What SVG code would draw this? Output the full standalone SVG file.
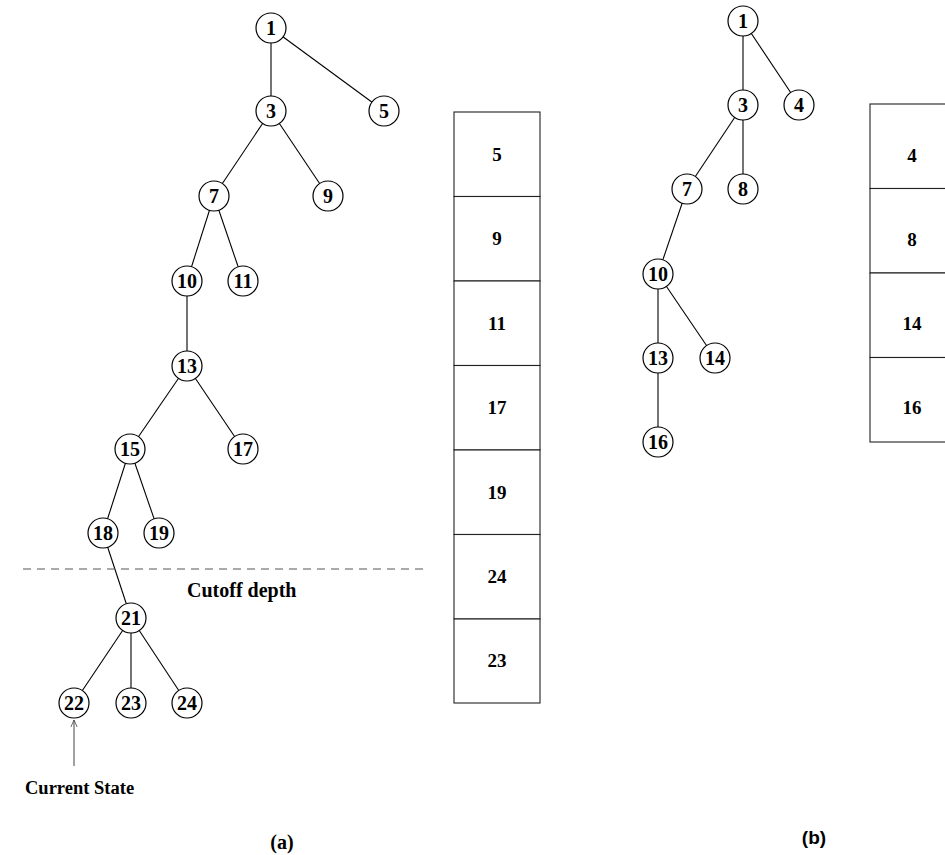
<svg xmlns="http://www.w3.org/2000/svg" width="945" height="855" viewBox="0 0 945 855">
  <style>
    .edge { stroke: #000; stroke-width: 1.1; fill: none; }
    .node circle { fill: #fff; stroke: #000; stroke-width: 1.2; }
    .node text { font-family: "Liberation Serif", "Times New Roman", serif; font-weight: bold; font-size: 20px; text-anchor: middle; fill: #000; }
    .cell rect { fill: #fff; stroke: #222; stroke-width: 1.1; }
    .cell text { font-family: "Liberation Serif", "Times New Roman", serif; font-weight: bold; font-size: 19px; text-anchor: middle; fill: #000; }
    .label { font-family: "Liberation Serif", "Times New Roman", serif; font-weight: bold; font-size: 20px; fill: #000; }
    .cap-b { font-family: "Liberation Sans", Arial, sans-serif; font-weight: bold; font-size: 19px; text-anchor: middle; fill: #000; }
  </style>
  <defs>
    <marker id="openArrow" viewBox="0 0 10 10" refX="9" refY="5" markerWidth="8" markerHeight="10" orient="auto" markerUnits="userSpaceOnUse">
      <path d="M0,1 L9,5 L0,9" fill="none" stroke="#444" stroke-width="1"/>
    </marker>
  </defs>

  <!-- Connectors (tree a, tree b, cutoff and pointer) -->
  <g id="connectors">
    <line class="edge" x1="271" y1="28" x2="271" y2="111"/>
    <line class="edge" x1="271" y1="28" x2="384" y2="111"/>
    <line class="edge" x1="271" y1="111" x2="214" y2="196"/>
    <line class="edge" x1="271" y1="111" x2="328" y2="196"/>
    <line class="edge" x1="214" y1="196" x2="187" y2="281"/>
    <line class="edge" x1="214" y1="196" x2="243" y2="281"/>
    <line class="edge" x1="187" y1="281" x2="187" y2="366"/>
    <line class="edge" x1="187" y1="366" x2="130" y2="449"/>
    <line class="edge" x1="187" y1="366" x2="243" y2="449"/>
    <line class="edge" x1="130" y1="449" x2="103" y2="533"/>
    <line class="edge" x1="130" y1="449" x2="159" y2="533"/>
    <line class="edge" x1="103" y1="533" x2="131" y2="618"/>
    <line class="edge" x1="131" y1="618" x2="74" y2="703"/>
    <line class="edge" x1="131" y1="618" x2="131" y2="703"/>
    <line class="edge" x1="131" y1="618" x2="187" y2="703"/>

    <line class="edge" x1="743" y1="21" x2="743" y2="105"/>
    <line class="edge" x1="743" y1="21" x2="799" y2="105"/>
    <line class="edge" x1="743" y1="105" x2="687" y2="189"/>
    <line class="edge" x1="743" y1="105" x2="743" y2="189"/>
    <line class="edge" x1="687" y1="189" x2="658" y2="274"/>
    <line class="edge" x1="658" y1="274" x2="658" y2="358"/>
    <line class="edge" x1="658" y1="274" x2="715" y2="358"/>
    <line class="edge" x1="658" y1="358" x2="658" y2="442"/>

    <line x1="23" y1="569" x2="426" y2="569" stroke="#555" stroke-width="1" stroke-dasharray="8 6"/>
    <line x1="74" y1="766" x2="74" y2="720" stroke="#444" stroke-width="1" marker-end="url(#openArrow)"/>
  </g>

  <!-- Tree (a) -->
  <g id="a1" class="node"><circle cx="271" cy="28" r="15"/><text x="271" y="35">1</text></g>
  <g id="a3" class="node"><circle cx="271" cy="111" r="15"/><text x="271" y="118">3</text></g>
  <g id="a5" class="node"><circle cx="384" cy="111" r="15"/><text x="384" y="118">5</text></g>
  <g id="a7" class="node"><circle cx="214" cy="196" r="15"/><text x="214" y="203">7</text></g>
  <g id="a9" class="node"><circle cx="328" cy="196" r="15"/><text x="328" y="203">9</text></g>
  <g id="a10" class="node"><circle cx="187" cy="281" r="15"/><text x="187" y="288">10</text></g>
  <g id="a11" class="node"><circle cx="243" cy="281" r="15"/><text x="243" y="288">11</text></g>
  <g id="a13" class="node"><circle cx="187" cy="366" r="15"/><text x="187" y="373">13</text></g>
  <g id="a15" class="node"><circle cx="130" cy="449" r="15"/><text x="130" y="456">15</text></g>
  <g id="a17" class="node"><circle cx="243" cy="449" r="15"/><text x="243" y="456">17</text></g>
  <g id="a18" class="node"><circle cx="103" cy="533" r="15"/><text x="103" y="540">18</text></g>
  <g id="a19" class="node"><circle cx="159" cy="533" r="15"/><text x="159" y="540">19</text></g>
  <g id="a21" class="node"><circle cx="131" cy="618" r="15"/><text x="131" y="625">21</text></g>
  <g id="a22" class="node"><circle cx="74" cy="703" r="15"/><text x="74" y="710">22</text></g>
  <g id="a23" class="node"><circle cx="131" cy="703" r="15"/><text x="131" y="710">23</text></g>
  <g id="a24" class="node"><circle cx="187" cy="703" r="15"/><text x="187" y="710">24</text></g>

  <text class="label" x="187" y="597">Cutoff depth</text>
  <text class="label" x="25" y="794" style="font-size:18.5px">Current State</text>
  <text class="label" x="282" y="849" text-anchor="middle">(a)</text>

  <!-- Open list (a) -->
  <g id="listA">
    <g class="cell"><rect x="454" y="112" width="86" height="84.5"/><text x="497" y="161">5</text></g>
    <g class="cell"><rect x="454" y="196.5" width="86" height="84.5"/><text x="497" y="245">9</text></g>
    <g class="cell"><rect x="454" y="281" width="86" height="84.5"/><text x="497" y="330">11</text></g>
    <g class="cell"><rect x="454" y="365.5" width="86" height="84.5"/><text x="497" y="414">17</text></g>
    <g class="cell"><rect x="454" y="450" width="86" height="84.5"/><text x="497" y="499">19</text></g>
    <g class="cell"><rect x="454" y="534.5" width="86" height="84.5"/><text x="497" y="583">24</text></g>
    <g class="cell"><rect x="454" y="619" width="86" height="84"/><text x="497" y="667">23</text></g>
  </g>

  <!-- Tree (b) -->
  <g id="b1" class="node"><circle cx="743" cy="21" r="15"/><text x="743" y="28">1</text></g>
  <g id="b3" class="node"><circle cx="743" cy="105" r="15"/><text x="743" y="112">3</text></g>
  <g id="b4" class="node"><circle cx="799" cy="105" r="15"/><text x="799" y="112">4</text></g>
  <g id="b7" class="node"><circle cx="687" cy="189" r="15"/><text x="687" y="196">7</text></g>
  <g id="b8" class="node"><circle cx="743" cy="189" r="15"/><text x="743" y="196">8</text></g>
  <g id="b10" class="node"><circle cx="658" cy="274" r="15"/><text x="658" y="281">10</text></g>
  <g id="b13" class="node"><circle cx="658" cy="358" r="15"/><text x="658" y="365">13</text></g>
  <g id="b14" class="node"><circle cx="715" cy="358" r="15"/><text x="715" y="365">14</text></g>
  <g id="b16" class="node"><circle cx="658" cy="442" r="15"/><text x="658" y="449">16</text></g>

  <!-- Open list (b) -->
  <g id="listB">
    <g class="cell"><rect x="870" y="104" width="86" height="84.5"/><text x="912" y="162">4</text></g>
    <g class="cell"><rect x="870" y="188.5" width="86" height="84.5"/><text x="912" y="246">8</text></g>
    <g class="cell"><rect x="870" y="273" width="86" height="84.5"/><text x="912" y="330">14</text></g>
    <g class="cell"><rect x="870" y="357.5" width="86" height="84.5"/><text x="912" y="414">16</text></g>
  </g>

  <text class="cap-b" x="814" y="844">(b)</text>
</svg>
